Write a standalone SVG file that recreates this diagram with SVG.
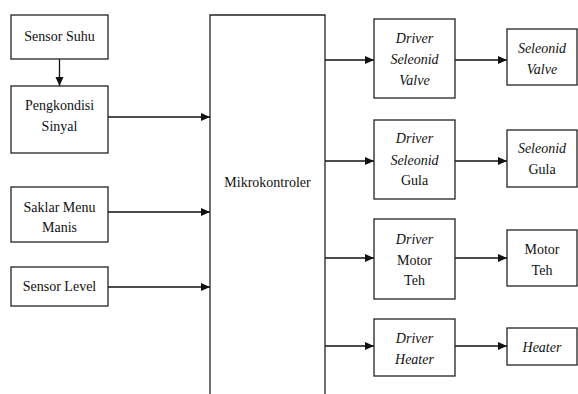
<svg xmlns="http://www.w3.org/2000/svg" width="578" height="394" viewBox="0 0 578 394">
<style>
.b{fill:#fff;stroke:#222;stroke-width:1.3}
.c{fill:none;stroke:#111;stroke-width:1.3}
text{font-family:"Liberation Serif","Times New Roman",serif;font-size:14px;fill:#111;text-anchor:middle}
.i{font-style:italic}
</style>
<defs>
<marker id="ah" markerWidth="10" markerHeight="10" refX="9" refY="5" orient="auto" markerUnits="userSpaceOnUse">
<path d="M0,1 L9,5 L0,9 Z" fill="#111"/>
</marker>
</defs>
<rect width="578" height="394" fill="#fff"/>
<g id="connectors">
<line class="c" x1="59.5" y1="59" x2="59.5" y2="86" marker-end="url(#ah)"/>
<line class="c" x1="108" y1="117" x2="210" y2="117" marker-end="url(#ah)"/>
<line class="c" x1="108" y1="212" x2="210" y2="212" marker-end="url(#ah)"/>
<line class="c" x1="108" y1="287" x2="210" y2="287" marker-end="url(#ah)"/>
<line class="c" x1="325" y1="60" x2="374" y2="60" marker-end="url(#ah)"/>
<line class="c" x1="325" y1="161" x2="374" y2="161" marker-end="url(#ah)"/>
<line class="c" x1="325" y1="258" x2="374" y2="258" marker-end="url(#ah)"/>
<line class="c" x1="325" y1="346" x2="374" y2="346" marker-end="url(#ah)"/>
<line class="c" x1="455" y1="60" x2="507" y2="60" marker-end="url(#ah)"/>
<line class="c" x1="455" y1="161" x2="507" y2="161" marker-end="url(#ah)"/>
<line class="c" x1="455" y1="258" x2="507" y2="258" marker-end="url(#ah)"/>
<line class="c" x1="455" y1="346" x2="507" y2="346" marker-end="url(#ah)"/>
</g>
<g id="sensor-suhu"><rect class="b" x="11" y="15" width="97" height="44"/><text x="59.5" y="41">Sensor Suhu</text></g>
<g id="pengkondisi"><rect class="b" x="11" y="86" width="97" height="67"/><text x="59.5" y="110">Pengkondisi</text><text x="59.5" y="131">Sinyal</text></g>
<g id="saklar"><rect class="b" x="11" y="187" width="97" height="55"/><text x="59.5" y="212">Saklar Menu</text><text x="59.5" y="232">Manis</text></g>
<g id="sensor-level"><rect class="b" x="11" y="267" width="97" height="39"/><text x="59.5" y="291">Sensor Level</text></g>
<g id="mikrokontroler"><path class="b" d="M210,395 V15 H325 V395"/><text x="267.5" y="187">Mikrokontroler</text></g>
<g id="driver-valve"><rect class="b" x="374" y="19" width="81" height="79"/><text class="i" x="414.5" y="43">Driver</text><text class="i" x="414.5" y="64">Seleonid</text><text class="i" x="414.5" y="85">Valve</text></g>
<g id="driver-gula"><rect class="b" x="374" y="120" width="81" height="79"/><text class="i" x="414.5" y="143">Driver</text><text class="i" x="414.5" y="165">Seleonid</text><text x="414.5" y="185">Gula</text></g>
<g id="driver-motor"><rect class="b" x="374" y="219" width="81" height="80"/><text class="i" x="414.5" y="244">Driver</text><text x="414.5" y="265">Motor</text><text x="414.5" y="285">Teh</text></g>
<g id="driver-heater"><rect class="b" x="374" y="319" width="81" height="57"/><text class="i" x="414.5" y="343">Driver</text><text class="i" x="414.5" y="364">Heater</text></g>
<g id="seleonid-valve"><rect class="b" x="507" y="29" width="70" height="56"/><text class="i" x="542" y="53">Seleonid</text><text class="i" x="542" y="74">Valve</text></g>
<g id="seleonid-gula"><rect class="b" x="507" y="130" width="70" height="57"/><text class="i" x="542" y="153">Seleonid</text><text x="542" y="174">Gula</text></g>
<g id="motor-teh"><rect class="b" x="507" y="230" width="70" height="56"/><text x="542" y="254">Motor</text><text x="542" y="275">Teh</text></g>
<g id="heater"><rect class="b" x="507" y="328" width="70" height="37"/><text class="i" x="542" y="352">Heater</text></g>
</svg>
